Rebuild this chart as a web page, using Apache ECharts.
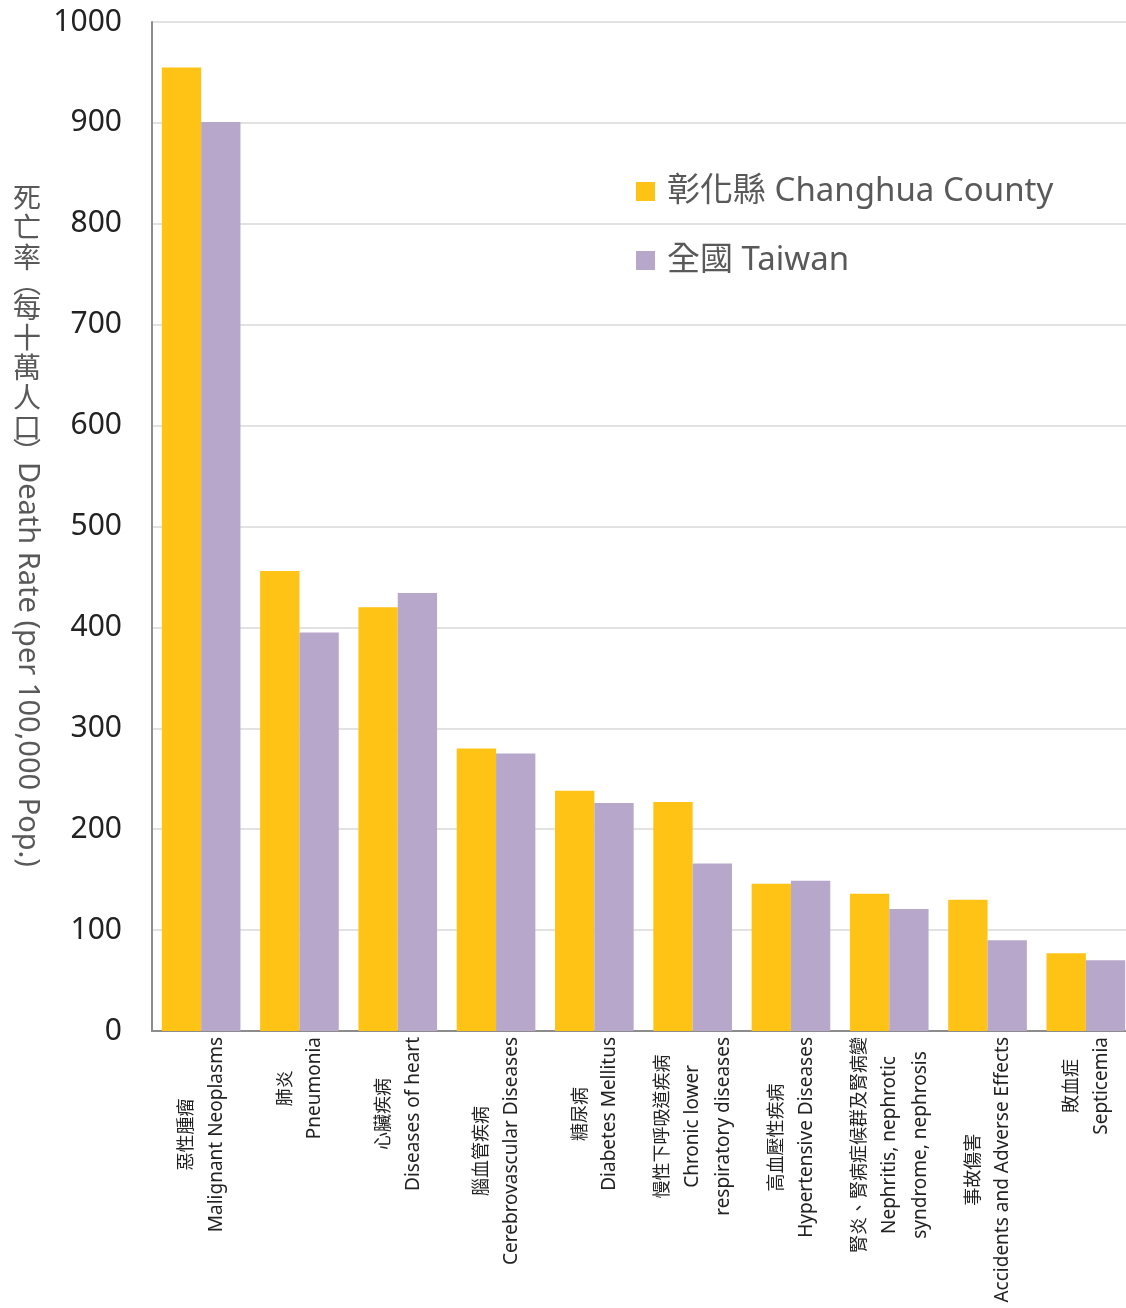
<!DOCTYPE html>
<html>
<head>
<meta charset="utf-8">
<script src="https://cdn.jsdelivr.net/npm/echarts@6/dist/echarts.min.js"></script>
<style>
  html, body { margin: 0; padding: 0; background: #fff; overflow: hidden; }
  #main { width: 1126px; height: 1308px; }
</style>
</head>
<body>
<div id="main"></div>
<script>
const categoriesZh = ['惡性腫瘤', '肺炎', '心臟疾病', '腦血管疾病', '糖尿病', '慢性下呼吸道疾病', '高血壓性疾病', '腎炎、腎病症候群及腎病變', '事故傷害', '敗血症']
const categoriesEn = [
  'Malignant Neoplasms', 'Pneumonia', 'Diseases of heart', 'Cerebrovascular Diseases',
  'Diabetes Mellitus', 'Chronic lower\nrespiratory diseases', 'Hypertensive Diseases',
  'Nephritis, nephrotic\nsyndrome, nephrosis', 'Accidents and Adverse Effects', 'Septicemia'
]
const changhua = [955, 456, 420, 280, 238, 227, 146, 136, 130, 77]
const taiwan = [901, 395, 434, 275, 226, 166, 149, 121, 90, 70]
const seriesNames = ['彰化縣 Changhua County', '全國 Taiwan']

const latin = "'Noto Sans', 'Noto Sans CJK TC', sans-serif"
const cjk = "'Noto Sans CJK TC', 'Noto Sans', sans-serif"

const chart = echarts.init(document.getElementById('main'))

// vertical title: CJK upright, latin rotated
const titleZh = ['死', '亡', '率', '︵', '每', '十', '萬', '人', '口', '︶']
const titleRich = titleZh.map((c) => (c === '︵' || c === '︶' ? `{p|${c}}` : `{c|${c}}`)).join('\n')

chart.setOption({
  animation: false,
  grid: {
    left: 152,
    right: -9,
    top: 22,
    bottom: 277,
    containLabel: false,
    outerBoundsMode: 'none'
  },
  legend: {
    orient: 'vertical',
    left: 631,
    top: 170,
    itemWidth: 19,
    itemHeight: 19,
    itemGap: 36,
    icon: 'rect',
    data: seriesNames,
    textStyle: {
      fontSize: 33,
      color: '#595959',
      fontFamily: latin,
      padding: [0, 0, 0, 7]
    }
  },
  xAxis: {
    type: 'category',
    data: categoriesZh.map((c, i) => c + '|' + categoriesEn[i]),
    axisTick: { show: false },
    axisLine: { lineStyle: { color: '#8c8c8c', width: 2 } },
    axisLabel: {
      interval: 0,
      rotate: 90,
      margin: 6,
      color: '#222',
      formatter(value) {
        const [zh, en] = value.split('|')
        const enLines = en.split('\n').map((l) => `{e|${l}}`)
        return [`{c|${zh}}`].concat(enLines).join('\n')
      },
      rich: {
        c: { fontSize: 18, lineHeight: 31, align: 'center', fontFamily: cjk, color: '#222' },
        e: { fontSize: 19, lineHeight: 31, align: 'center', fontFamily: latin, color: '#222' }
      }
    }
  },
  yAxis: {
    type: 'value',
    min: 0,
    max: 1000,
    interval: 100,
    axisLine: { show: true, lineStyle: { color: '#8c8c8c', width: 2 } },
    axisTick: { show: false },
    axisLabel: {
      fontSize: 30,
      color: '#222',
      margin: 30,
      fontFamily: latin,
      formatter: (v) => String(v)
    },
    splitLine: { lineStyle: { color: '#d9d9d9', width: 1.5 } }
  },
  graphic: [
    {
      type: 'text',
      x: 27,
      y: 182,
      style: {
        text: titleRich,
        align: 'center',
        verticalAlign: 'top',
        rich: {
          c: { fontSize: 28, lineHeight: 30, fontFamily: cjk, fill: '#595959', align: 'center' },
          p: { fontSize: 28, lineHeight: 20, fontFamily: cjk, fill: '#595959', align: 'center' }
        }
      }
    },
    {
      type: 'text',
      x: 27,
      y: 462,
      rotation: -Math.PI / 2,
      style: {
        text: 'Death Rate (per 100,000 Pop.)',
        fontSize: 29,
        fontFamily: latin,
        fill: '#595959',
        align: 'left',
        verticalAlign: 'middle'
      }
    }
  ],
  series: [
    {
      name: seriesNames[0],
      type: 'bar',
      data: changhua,
      barGap: '0%',
      barCategoryGap: '20%',
      itemStyle: { color: '#FEC314' }
    },
    {
      name: seriesNames[1],
      type: 'bar',
      data: taiwan,
      itemStyle: { color: '#B7A8CB' }
    }
  ]
})
</script>
</body>
</html>
